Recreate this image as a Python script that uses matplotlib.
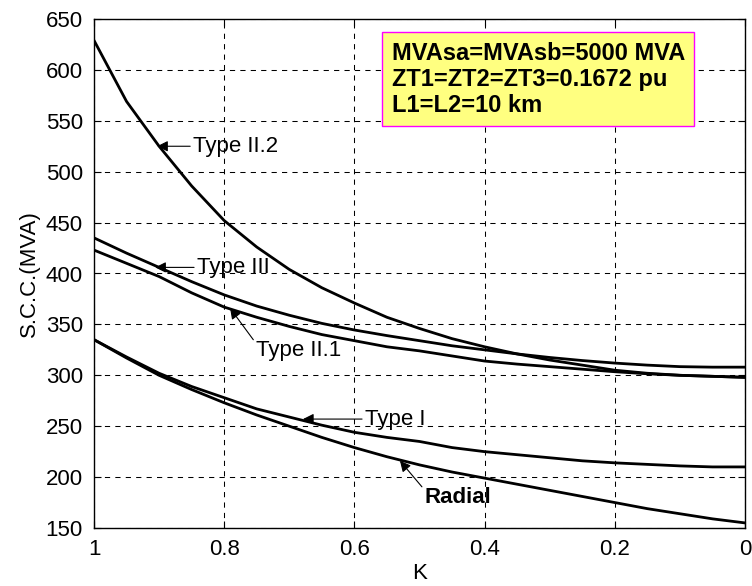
import numpy as np
import matplotlib
matplotlib.use("Agg")
import matplotlib.pyplot as plt
from matplotlib.ticker import FuncFormatter

plt.rcParams['font.family'] = ['Liberation Sans', 'DejaVu Sans']

# coupling factor K (axis runs from 1 down to 0)
k = [1.0, 0.95, 0.9, 0.85, 0.8, 0.75, 0.7, 0.65, 0.6, 0.55, 0.5,
     0.45, 0.4, 0.35, 0.3, 0.25, 0.2, 0.15, 0.1, 0.05, 0.0]

# short circuit capacity (MVA)
scc_type_ii2 = [629, 569, 525, 486, 452, 426, 404, 386, 371, 357, 346,
                336, 328, 321, 315, 310, 305, 302, 300, 299, 298]
scc_type_iii = [435, 420, 406, 392, 379, 368, 359, 351, 344.5, 339, 334,
                329, 325, 321, 317.5, 314.5, 312, 310, 308.5, 308, 308]
scc_type_ii1 = [423, 410, 397, 381, 367, 357, 348, 340, 334, 328, 324,
                319, 314, 311, 308.5, 306, 303.5, 301.5, 300, 299, 298]
scc_type_i = [335, 318, 302, 289, 278, 267, 259, 251, 244, 239, 235,
              229, 225, 222, 219, 216, 214, 212.5, 211, 210, 210]
scc_radial = [335, 317, 300, 286, 273, 261, 250, 239, 229, 220, 212,
              205, 199, 193, 187, 181, 175, 169, 164, 159, 155]

x_ticks = [1, 0.8, 0.6, 0.4, 0.2, 0]
y_ticks = [150, 200, 250, 300, 350, 400, 450, 500, 550, 600, 650]

info = "MVAsa=MVAsb=5000 MVA\nZT1=ZT2=ZT3=0.1672 pu\nL1=L2=10 km"

fig = plt.figure(figsize=(7.52, 5.86), dpi=100)
ax = fig.add_axes([94 / 752, 1 - 528 / 586, 651 / 752, 509 / 586])

for s in [scc_type_ii2, scc_type_iii, scc_type_ii1, scc_type_i, scc_radial]:
    ax.plot(k, s, color='k', lw=2)

ax.set_xlim(1, 0)
ax.set_ylim(150, 650)
ax.set_xticks(x_ticks)
ax.set_yticks(y_ticks)
ax.xaxis.set_major_formatter(FuncFormatter(lambda v, p: '%g' % v))
ax.tick_params(direction='in', top=True, right=True, length=5,
               labelsize=16, pad=8)
ax.grid(True, color='k', lw=0.75, linestyle=(0, (5, 5)))
for sp in ax.spines.values():
    sp.set_linewidth(1.0)

ax.set_xlabel('K', fontsize=16, labelpad=2)
ax.set_ylabel('S.C.C.(MVA)', fontsize=16, labelpad=4)

arrow = dict(arrowstyle='-|>', color='k', lw=0.8, mutation_scale=16,
             shrinkA=0, shrinkB=0)

ax.annotate('Type II.2', xy=(0.903, 525), xytext=(0.848, 525),
            fontsize=16, va='center', ha='left',
            arrowprops=dict(arrow, relpos=(0, 0.5)))
ax.annotate('Type III', xy=(0.906, 406), xytext=(0.842, 406),
            fontsize=16, va='center', ha='left',
            arrowprops=dict(arrow, relpos=(0, 0.5)))
ax.annotate('Type II.1', xy=(0.791, 366), xytext=(0.751, 324),
            fontsize=16, va='center', ha='left',
            arrowprops=dict(arrow, relpos=(0, 0.85)))
ax.annotate('Type I', xy=(0.679, 257), xytext=(0.584, 257),
            fontsize=16, va='center', ha='left',
            arrowprops=dict(arrow, relpos=(0, 0.5)))
ax.annotate('Radial', xy=(0.530, 216), xytext=(0.492, 180),
            fontsize=16, fontweight='bold', va='center', ha='left',
            arrowprops=dict(arrow, relpos=(0, 0.85)))

ax.text(0.457, 0.955, info, transform=ax.transAxes, fontsize=17,
        fontweight='bold', ha='left', va='top', linespacing=1.17,
        bbox=dict(boxstyle='square,pad=0.4', facecolor='#ffff80',
                  edgecolor='#ff00ff', lw=1))

fig.savefig('out.png', dpi=100)
